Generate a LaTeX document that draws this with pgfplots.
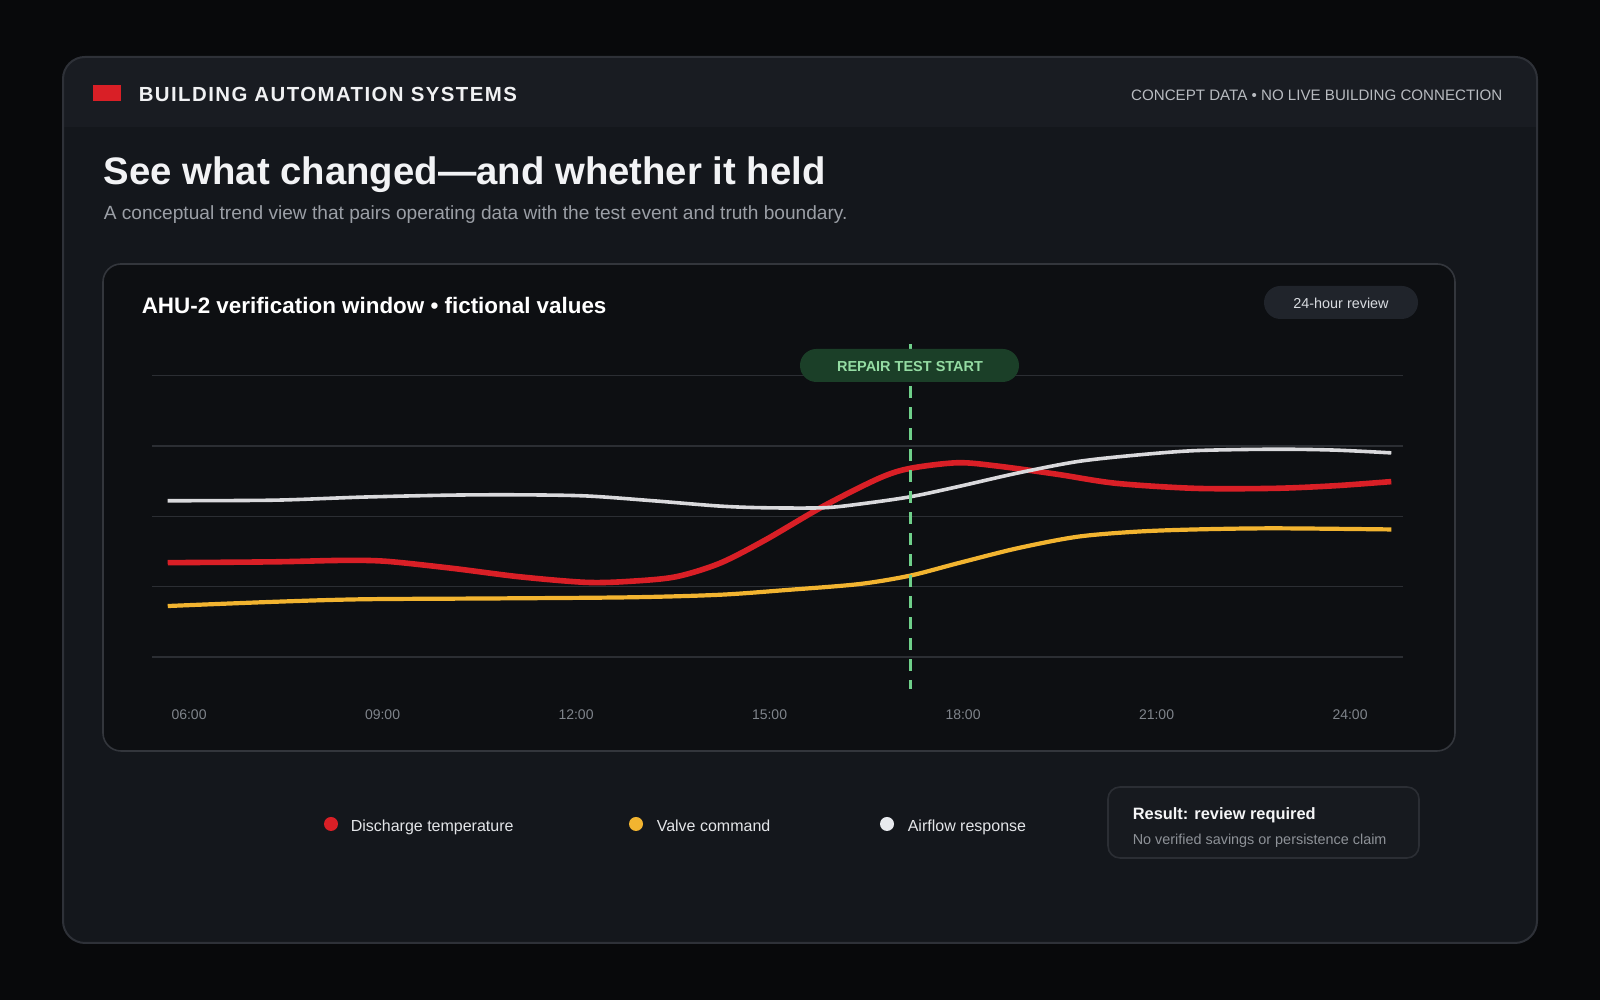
\documentclass[border=0pt]{standalone}
\usepackage{pgfplots}
\pgfplotsset{compat=1.18}
\usepackage{fontspec}
\setmainfont{Liberation Sans}

\definecolor{bgout}{HTML}{08090B}
\definecolor{card}{HTML}{14171C}
\definecolor{headbg}{HTML}{191C22}
\definecolor{cardline}{HTML}{2E3138}
\definecolor{panel}{HTML}{0D0F12}
\definecolor{panelline}{HTML}{33363C}
\definecolor{gridc}{HTML}{2B2E33}
\definecolor{accent}{HTML}{D91F26}
\definecolor{redc}{HTML}{D91F26}
\definecolor{yelc}{HTML}{F2B430}
\definecolor{whtc}{HTML}{D9D9DC}
\definecolor{dashc}{HTML}{6FD08A}
\definecolor{pillg}{HTML}{1B3F28}
\definecolor{pillgtxt}{HTML}{94DCA3}
\definecolor{pillc}{HTML}{20242B}
\definecolor{pilltxt}{HTML}{D8DBE0}
\definecolor{tickc}{HTML}{7F848B}
\definecolor{titlec}{HTML}{F2F3F5}
\definecolor{subc}{HTML}{9B9FA6}
\definecolor{headtxt}{HTML}{F0F1F3}
\definecolor{headright}{HTML}{B8BBC0}
\definecolor{legtxt}{HTML}{E3E5E8}
\definecolor{legwht}{HTML}{E8EAEE}
\definecolor{resfill}{HTML}{171A1F}
\definecolor{resline}{HTML}{2B2E34}
\definecolor{resttl}{HTML}{F5F6F7}
\definecolor{ressub}{HTML}{8E9298}

\newcommand{\fsz}[1]{\fontsize{#1bp}{#1bp}\selectfont}

% hour of day vs. normalised value (0-100)
\pgfplotstableread{
h v
5.67 33.5
7.32 33.8
8.36 34.3
9.05 34.0
10.08 31.5
11.12 28.5
12.16 26.5
12.85 26.9
13.55 28.5
14.23 33.3
14.93 41.5
15.83 53.5
16.70 63.5
17.18 67.0
17.92 69.0
18.54 67.8
19.46 64.9
20.37 61.7
21.60 59.9
22.82 59.9
23.75 60.8
24.64 62.3
}\discharge

\pgfplotstableread{
h v
5.67 18.1
7.32 19.6
8.70 20.5
10.78 20.8
12.85 21.2
14.23 22.1
15.27 23.8
16.39 25.9
17.18 28.9
17.92 33.3
18.84 38.6
19.77 42.7
20.68 44.5
21.60 45.3
22.82 45.7
24.64 45.3
}\valve

\pgfplotstableread{
h v
5.67 55.5
7.32 55.7
8.70 56.8
10.08 57.5
11.12 57.6
12.16 57.2
13.19 55.5
14.23 53.6
14.93 53.0
15.83 53.0
16.39 54.3
17.18 56.9
17.92 60.5
18.84 65.3
19.77 69.4
20.68 71.7
21.60 73.3
22.82 73.8
23.75 73.5
24.64 72.5
}\airflow

\begin{document}
\begin{tikzpicture}
\begin{scope}[x=0.25bp,y=0.25bp]
  % page and card
  \fill[bgout] (0,0) rectangle (1600,1000);
  \fill[card, rounded corners=5.5bp] (63,57) rectangle (1537,943);
  \begin{scope}
    \clip[rounded corners=5.5bp] (63,57) rectangle (1537,943);
    \fill[headbg] (63,873) rectangle (1537,943);
  \end{scope}
  \draw[cardline, line width=0.5bp, rounded corners=5.5bp] (63,57) rectangle (1537,943);

  % header
  \fill[accent] (93,899) rectangle (121,915);
  \node[anchor=base west, inner sep=0, text=headtxt] at (138,898.3)
    {\fsz{5.1}\bfseries\addfontfeatures{LetterSpace=7}BUILDING AUTOMATION SYSTEMS};
  \node[anchor=base east, inner sep=0, text=headright] at (1503,899)
    {\fsz{3.78}CONCEPT DATA • NO LIVE BUILDING CONNECTION};

  % headline
  \node[anchor=base west, inner sep=0, text=titlec] at (103,815)
    {\fsz{9.58}\bfseries See what changed—and whether it held};
  \node[anchor=base west, inner sep=0, text=subc] at (103,780)
    {\fsz{4.78}A conceptual trend view that pairs operating data with the test event and truth boundary.};

  % chart panel
  \filldraw[fill=panel, draw=panelline, line width=0.4bp, rounded corners=4.5bp] (103,249) rectangle (1455,736);
  \node[anchor=base west, inner sep=0, text=white] at (141,686.7)
    {\fsz{5.6}\bfseries AHU-2 verification window • fictional values};
  \fill[pillc, rounded corners=4.1bp] (1264,681) rectangle (1418,714);
  \node[anchor=base, inner sep=0, text=pilltxt] at (1341,691.7) {\fsz{3.6}24-hour review};
\end{scope}

\begin{axis}[
  at={(38bp,85.75bp)}, anchor=south west,
  scale only axis, width=312.75bp, height=70.375bp,
  xmin=5.426, xmax=24.822, ymin=0, ymax=100,
  clip=false,
  axis line style={draw=none},
  tick style={draw=none},
  ytick={0,25,50,75,100}, yticklabels={,,,,},
  yticklabel style={text opacity=0},
  ymajorgrids, grid style={gridc, line width=0.35bp},
  xtick={6,9,12,15,18,21,24},
  xticklabels={06:00,09:00,12:00,15:00,18:00,21:00,24:00},
  xticklabel style={anchor=base, yshift=-15.75bp, text=tickc, font=\fsz{3.5}},
]
  \addplot[draw=redc, line width=1.4bp, smooth, no markers] table[x=h, y=v] {\discharge};
  \addplot[draw=yelc, line width=1.05bp, smooth, no markers] table[x=h, y=v] {\valve};
  \addplot[draw=whtc, line width=0.9bp, smooth, no markers] table[x=h, y=v] {\airflow};
  % repair test start marker
  \draw[dashc, line width=0.75bp, dash pattern=on 3bp off 2.25bp] (axis cs:17.18,111.1) -- (axis cs:17.18,-11.4);
\end{axis}

\begin{scope}[x=0.25bp,y=0.25bp]
  \fill[pillg, rounded corners=4.1bp] (800,618) rectangle (1019,651);
  \node[anchor=base, inner sep=0, text=pillgtxt] at (910,628.3) {\fsz{3.62}\bfseries REPAIR TEST START};

  % legend
  \fill[redc] (331,176) circle[radius=1.75bp];
  \node[anchor=base west, inner sep=0, text=legtxt] at (350,168.3) {\fsz{4.0}Discharge temperature};
  \fill[yelc] (636,176) circle[radius=1.75bp];
  \node[anchor=base west, inner sep=0, text=legtxt] at (656,168.3) {\fsz{4.0}Valve command};
  \fill[legwht] (887,176) circle[radius=1.75bp];
  \node[anchor=base west, inner sep=0, text=legtxt] at (907,168.3) {\fsz{4.0}Airflow response};

  % result box
  \filldraw[fill=resfill, draw=resline, line width=0.4bp, rounded corners=3bp] (1108,142) rectangle (1419,213);
  \node[anchor=base west, inner sep=0, text=resttl] at (1132,180.7) {\fsz{4.1}\bfseries Result: review required};
  \node[anchor=base west, inner sep=0, text=ressub] at (1132,155) {\fsz{3.6}No verified savings or persistence claim};
\end{scope}
\end{tikzpicture}
\end{document}
